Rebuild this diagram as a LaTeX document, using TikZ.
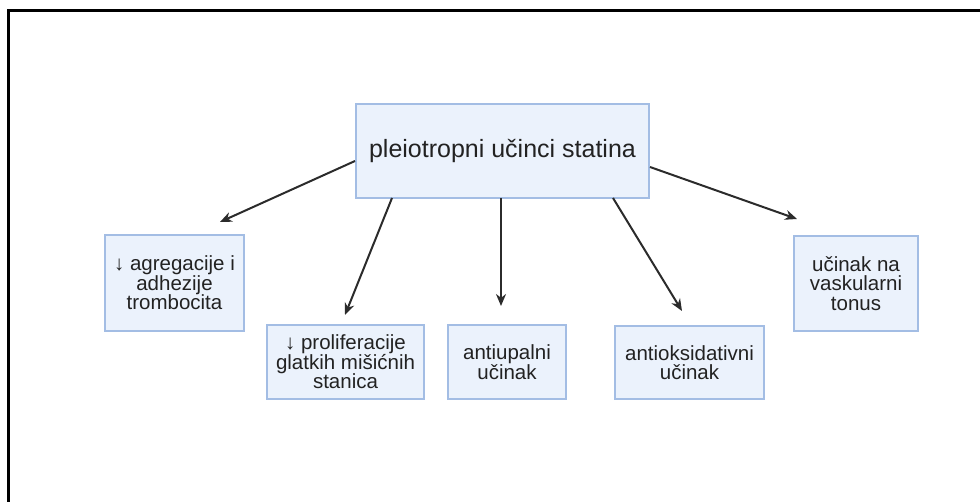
\documentclass[tikz,border=0pt]{standalone}
\usepackage{fontspec}
\setmainfont{Liberation Sans}
\usetikzlibrary{arrows.meta}
\definecolor{boxfill}{HTML}{EBF2FC}
\definecolor{boxline}{HTML}{A3BDE4}
\definecolor{txt}{HTML}{222222}
\definecolor{arr}{HTML}{2B2B2B}
\begin{document}
\begin{tikzpicture}[x=1pt,y=-1pt,
  box/.style={draw=boxline,fill=boxfill,line width=2pt,inner sep=0pt,text=txt,align=center,anchor=north west},
  small/.style={font=\fontsize{20.5}{19.5}\selectfont},
  conn/.style={draw=arr,line width=2pt,-{Stealth[length=12pt,width=10pt]}}]
\useasboundingbox (0,0) rectangle (980,502);
\draw[line width=3pt] (8.5,502) -- (8.5,10.5) -- (980,10.5);
\node[box,minimum width=293pt,minimum height=94pt,font=\fontsize{25}{28}\selectfont] (main) at (355,103) {pleiotropni učinci statina};
\node[box,small,minimum width=139pt,minimum height=96pt] (b1) at (104,234) {↓ agregacije i\\adhezije\\trombocita};
\node[box,small,minimum width=157pt,minimum height=74pt] (b2) at (266,324) {↓ proliferacije\\glatkih mišićnih\\stanica};
\node[box,small,minimum width=118pt,minimum height=74pt] (b3) at (447,324) {antiupalni\\učinak};
\node[box,small,minimum width=149pt,minimum height=73pt] (b4) at (614,325) {antioksidativni\\učinak};
\node[box,small,minimum width=124pt,minimum height=95pt] (b5) at (793,235) {učinak na\\vaskularni\\tonus};
\coordinate (e1) at (220,222);
\coordinate (e2) at (345,315);
\coordinate (e3) at (501,306);
\coordinate (e4) at (682,311);
\coordinate (e5) at (797,219);
\path[conn] (main.west |- 0,161) -- (e1);
\path[conn] (392,198) -- (e2);
\path[conn] (501,198) -- (e3);
\path[conn] (613,198) -- (e4);
\path[conn] (main.east |- 0,167) -- (e5);
\end{tikzpicture}
\end{document}
